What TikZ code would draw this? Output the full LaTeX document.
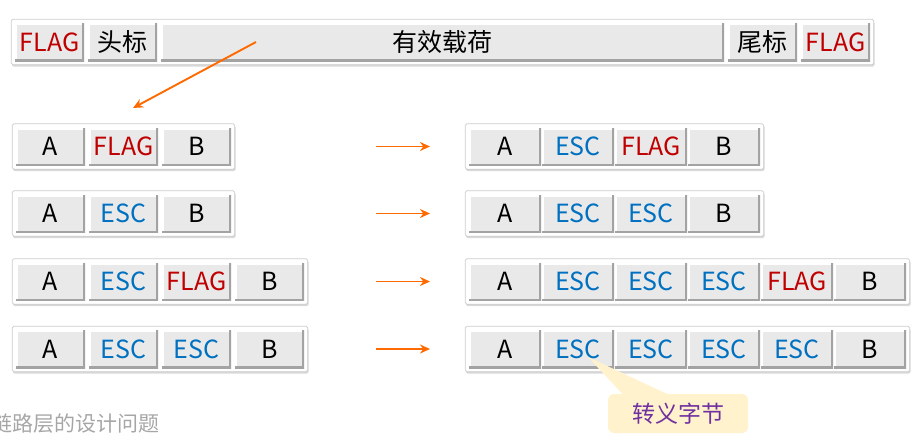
\documentclass[tikz,border=0pt]{standalone}
\usepackage{fontspec}
\setmainfont{Noto Sans CJK SC}
\usetikzlibrary{shadows,fit,backgrounds,arrows.meta,calc}
\definecolor{flagred}{HTML}{C00000}
\definecolor{escblue}{HTML}{0070C0}
\definecolor{cellgray}{HTML}{E9E9E9}
\definecolor{darkedge}{HTML}{A3A3A3}
\definecolor{arroworange}{HTML}{FF6A00}
\definecolor{notefill}{HTML}{FFF2CC}
\definecolor{notetext}{HTML}{7030A0}
\definecolor{captiongray}{HTML}{A6A6A6}
\begin{document}
\begin{tikzpicture}[x=1pt,y=-1pt,
  cell/.style={minimum width=69pt, minimum height=38pt, inner sep=0pt, fill=cellgray,
    font=\fontsize{25}{28}\selectfont,
    path picture={
      \draw[white,line width=4pt] (path picture bounding box.south west) -- (path picture bounding box.north west) -- (path picture bounding box.north east);
      \draw[darkedge,line width=4pt] (path picture bounding box.south west) -- (path picture bounding box.south east) -- (path picture bounding box.north east);
    }},
  rcell/.style={cell, minimum width=72pt},
  flag/.style={text=flagred},
  esc/.style={text=escblue},
  frame/.style={draw=gray!40, fill=white, rounded corners=1.5pt, line width=0.8pt, inner sep=3.5pt,
    drop shadow={shadow xshift=0.8pt, shadow yshift=-2pt, opacity=0.3, fill=gray}},
  orangearrow/.style={line width=1.9pt, arroworange, -{Stealth[length=10pt,width=9pt]}},
  note/.style={fill=notefill, rounded corners=6pt, minimum width=140pt, minimum height=39pt, inner sep=0pt,
    text=notetext, font=\fontsize{23}{26}\selectfont}
]
\useasboundingbox (0,0) rectangle (923,439);

% ---- top frame
\node[cell, flag] (t1) at (49.5,42) {FLAG};
\node[cell] (t2) at (122.5,42) {头标};
\node[cell, minimum width=563pt] (t3) at (442.5,42) {有效载荷};
\node[cell] (t4) at (762.5,42) {尾标};
\node[cell, flag] (t5) at (835.5,42) {FLAG};

% ---- left rows
\node[cell] (l1a) at (50.5,146.5) {A};
\node[cell, flag] (l1b) at (123.5,146.5) {FLAG};
\node[cell] (l1c) at (196.5,146.5) {B};

\node[cell] (l2a) at (50.5,213.5) {A};
\node[cell, esc] (l2b) at (123.5,213.5) {ESC};
\node[cell] (l2c) at (196.5,213.5) {B};

\node[cell] (l3a) at (50.5,281.5) {A};
\node[cell, esc] (l3b) at (123.5,281.5) {ESC};
\node[cell, flag] (l3c) at (196.5,281.5) {FLAG};
\node[cell] (l3d) at (269.5,281.5) {B};

\node[cell] (l4a) at (50.5,349) {A};
\node[cell, esc] (l4b) at (123.5,349) {ESC};
\node[cell, esc] (l4c) at (196.5,349) {ESC};
\node[cell] (l4d) at (269.5,349) {B};

% ---- right rows
\node[rcell] (r1a) at (505,146.5) {A};
\node[rcell, esc] (r1b) at (578,146.5) {ESC};
\node[rcell, flag] (r1c) at (651,146.5) {FLAG};
\node[rcell] (r1d) at (724,146.5) {B};

\node[rcell] (r2a) at (505,213.5) {A};
\node[rcell, esc] (r2b) at (578,213.5) {ESC};
\node[rcell, esc] (r2c) at (651,213.5) {ESC};
\node[rcell] (r2d) at (724,213.5) {B};

\node[rcell] (r3a) at (505,281.5) {A};
\node[rcell, esc] (r3b) at (578,281.5) {ESC};
\node[rcell, esc] (r3c) at (651,281.5) {ESC};
\node[rcell, esc] (r3d) at (724,281.5) {ESC};
\node[rcell, flag] (r3e) at (797,281.5) {FLAG};
\node[rcell] (r3f) at (870,281.5) {B};

\node[rcell] (r4a) at (505,349) {A};
\node[rcell, esc] (r4b) at (578,349) {ESC};
\node[rcell, esc] (r4c) at (651,349) {ESC};
\node[rcell, esc] (r4d) at (724,349) {ESC};
\node[rcell, esc] (r4e) at (797,349) {ESC};
\node[rcell] (r4f) at (870,349) {B};

% ---- frames behind
\begin{scope}[on background layer]
  \node[frame, fit=(t1)(t5)] (ftop) {};
  \node[frame, fit=(l1a)(l1c)] (fl1) {};
  \node[frame, fit=(l2a)(l2c)] (fl2) {};
  \node[frame, fit=(l3a)(l3d)] (fl3) {};
  \node[frame, fit=(l4a)(l4d)] (fl4) {};
  \node[frame, fit=(r1a)(r1d)] (fr1) {};
  \node[frame, fit=(r2a)(r2d)] (fr2) {};
  \node[frame, fit=(r3a)(r3f)] (fr3) {};
  \node[frame, fit=(r4a)(r4f)] (fr4) {};
\end{scope}

% ---- arrows
\coordinate (ds) at (256,42);
\coordinate (de) at (133,108);
\draw[orangearrow] (ds) -- (de);
\coordinate (a1s) at (376,146.5); \coordinate (a1e) at (430,146.5);
\coordinate (a2s) at (376,213.5); \coordinate (a2e) at (430,213.5);
\coordinate (a3s) at (376,281.5); \coordinate (a3e) at (430,281.5);
\coordinate (a4s) at (376,349);   \coordinate (a4e) at (430,349);
\draw[orangearrow] (a1s) -- (a1e);
\draw[orangearrow] (a2s) -- (a2e);
\draw[orangearrow] (a3s) -- (a3e);
\draw[orangearrow] (a4s) -- (a4e);

% ---- callout
\node[note] (escnote) at (678,413.5) {转义字节};
\fill[notefill] ($(escnote.north west)+(15,0.5)$) -- ($(r4b.center)+(10,8)$) -- ($(escnote.north west)+(60,0.5)$) -- cycle;

% ---- caption
\node[anchor=base east, text=captiongray, inner sep=0pt, font=\fontsize{21}{24}\selectfont] (caption) at (160,431) {链路层的设计问题};
\end{tikzpicture}
\end{document}
